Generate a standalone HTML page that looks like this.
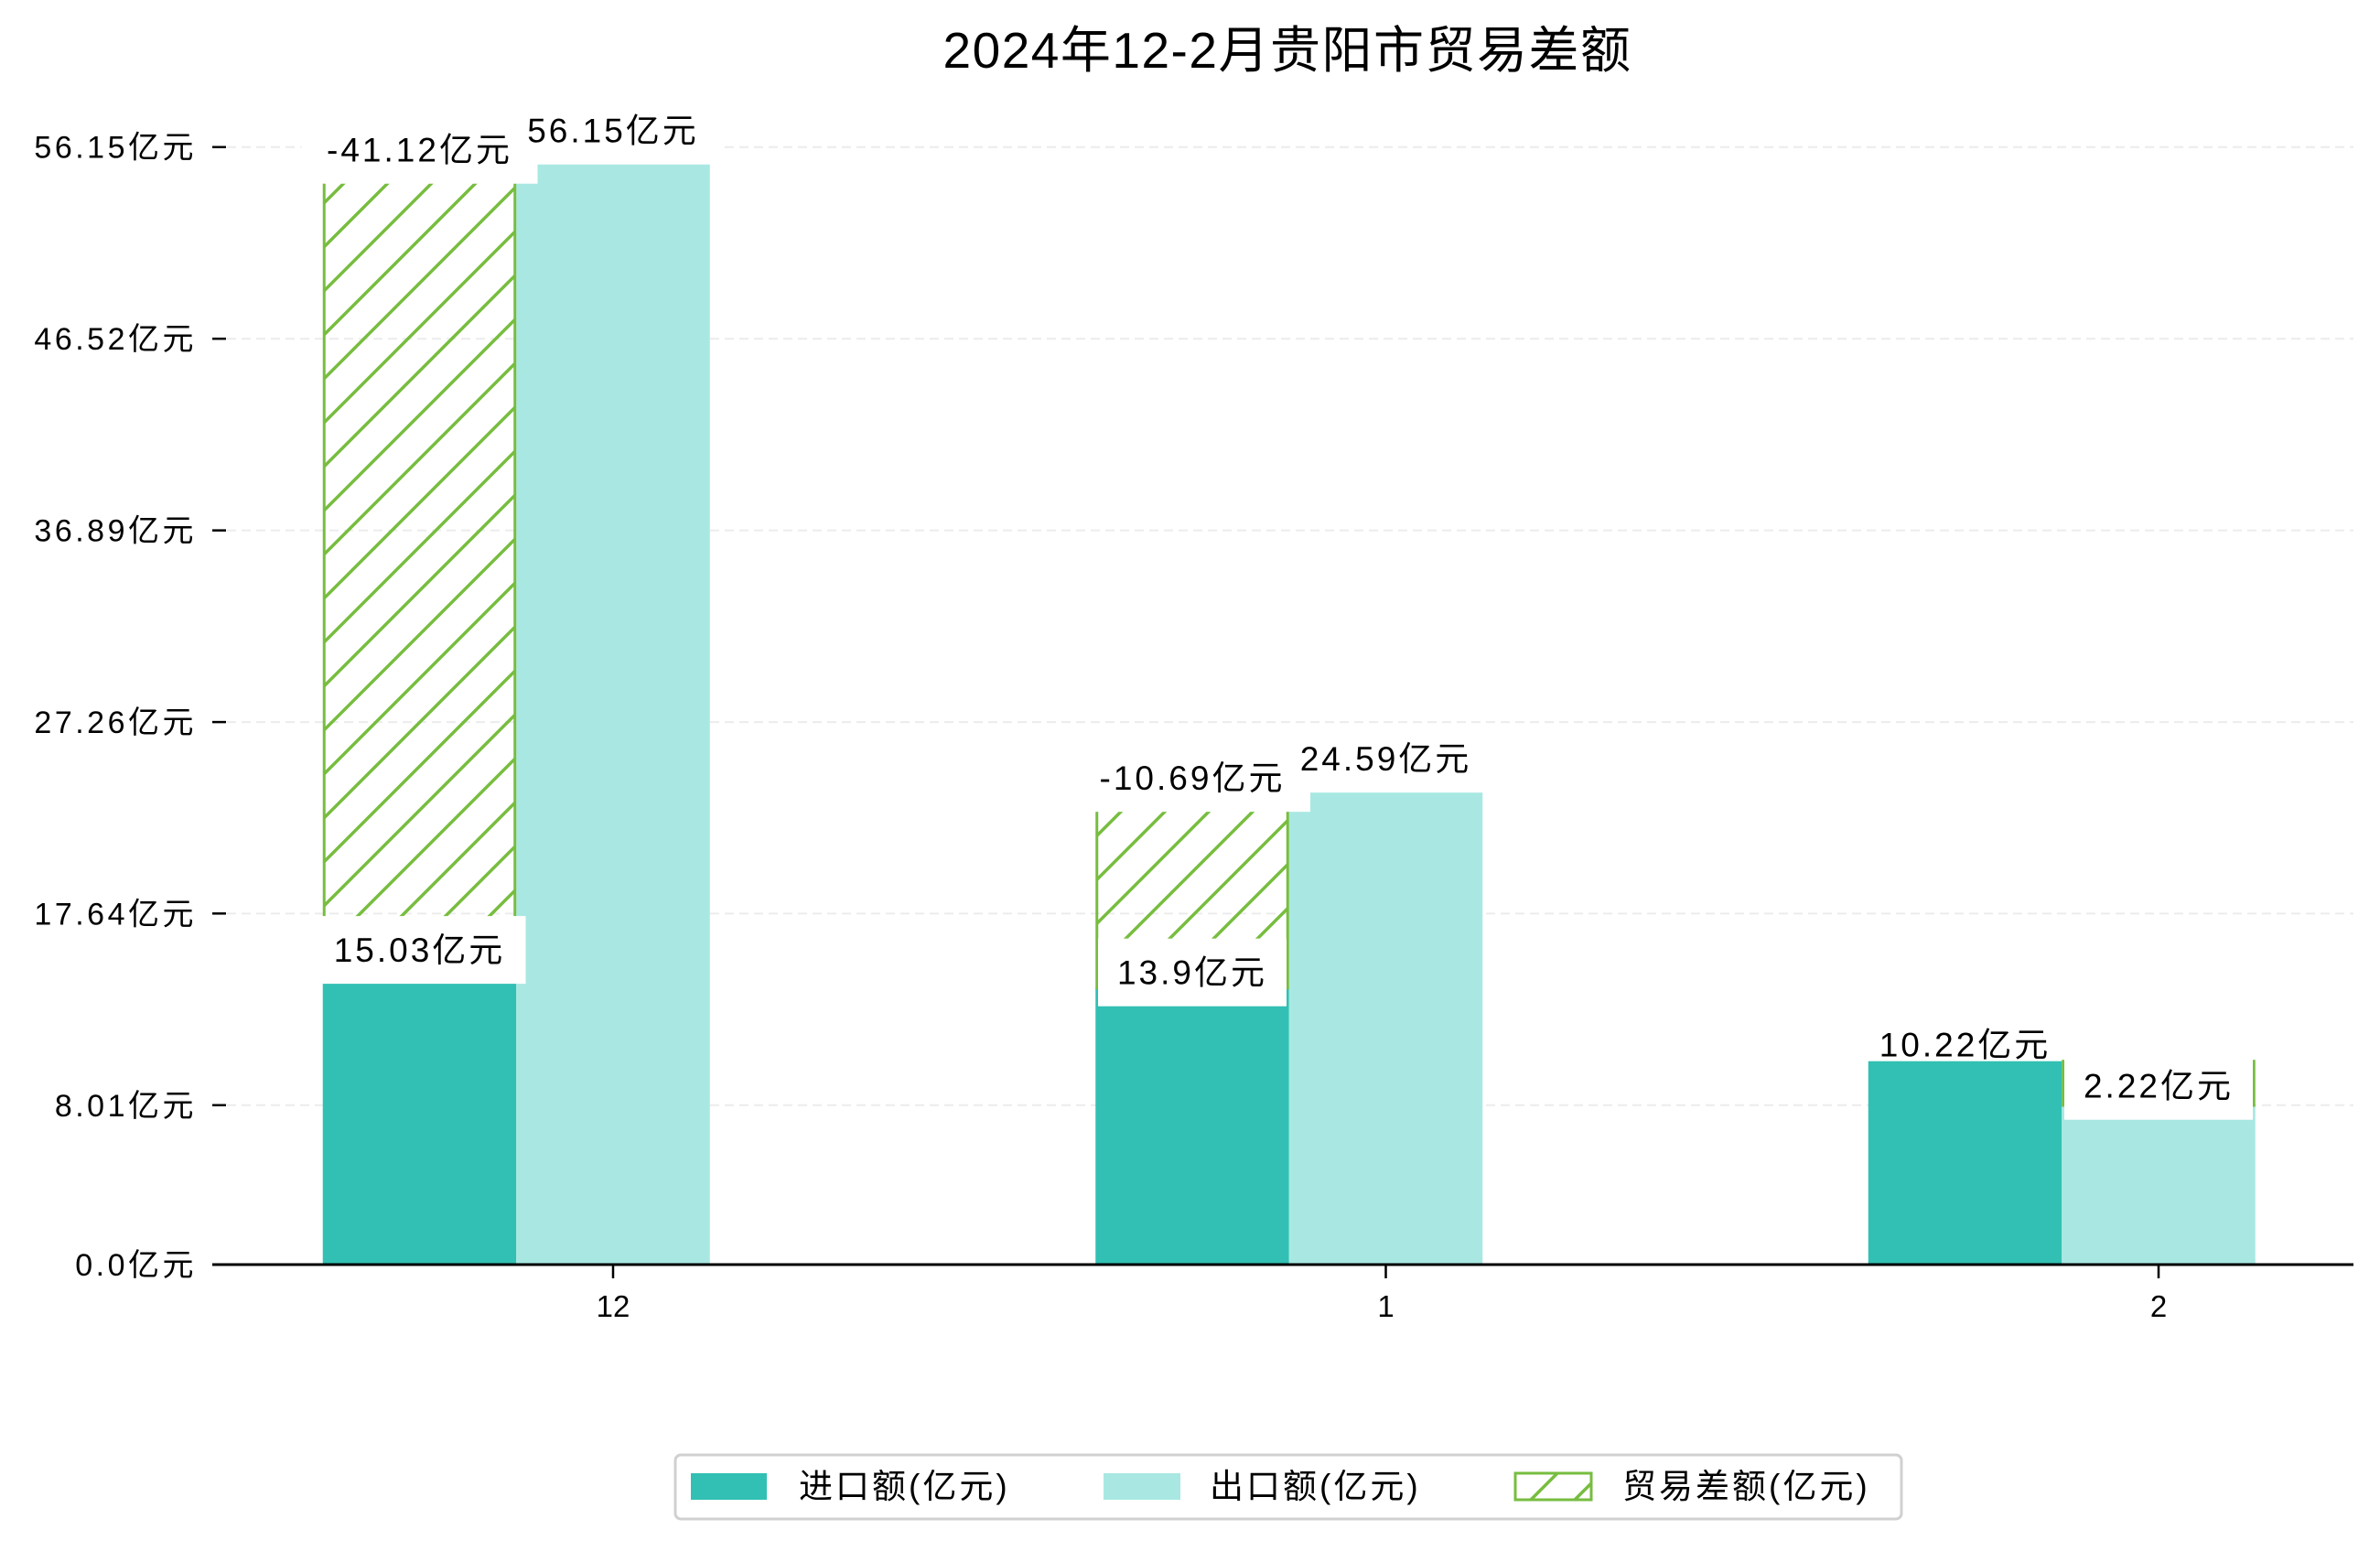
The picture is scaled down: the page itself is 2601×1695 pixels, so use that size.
<!DOCTYPE html>
<html><head><meta charset="utf-8"><style>
html,body{margin:0;padding:0;background:#fff}
svg text{font-family:"Liberation Sans","Noto Sans CJK SC",sans-serif}
</style></head><body>
<svg id="chart" width="2601" height="1690" viewBox="0 0 2601 1690" xmlns="http://www.w3.org/2000/svg">
<defs>
<pattern id="hatch" patternUnits="userSpaceOnUse" width="48" height="48">
<path d="M-12,12 L12,-12 M0,48 L48,0 M36,60 L60,36" stroke="#77bd3f" stroke-width="3.5"/>
</pattern>
</defs>
<text x="1407" y="74" font-size="55" letter-spacing="1.5" text-anchor="middle" fill="#000">2024年12-2月贵阳市贸易差额</text>
<g id="grid"></g><g id="bars"></g><g id="boxes"></g><g id="labels"></g><g id="axes"></g>
<g>
<rect x="738" y="1590" width="1340" height="70" rx="6" fill="#fff" stroke="#d0d0d0" stroke-width="3"/>
<rect x="755" y="1610" width="83" height="29" fill="#31c0b3"/>
<text x="873" y="1637" font-size="37" letter-spacing="3">进口额(亿元)</text>
<rect x="1206" y="1610" width="84" height="29" fill="#a9e8e2"/>
<text x="1322" y="1637" font-size="37" letter-spacing="3">出口额(亿元)</text>
<rect x="1656" y="1610" width="83" height="29" fill="url(#hatch)" stroke="#77bd3f" stroke-width="3"/>
<text x="1773" y="1637" font-size="37" letter-spacing="3">贸易差额(亿元)</text>
</g>
</svg>
<script>
const categories = ['12', '1', '2'];
const importVals = [15.03, 13.9, 10.22];
const exportVals = [56.15, 24.59, 8.0];
const balanceVals = [-41.12, -10.69, 2.22];
const yTicks = [0.0, 8.01, 17.64, 27.26, 36.89, 46.52, 56.15];
const yTickLabels = ['0.0亿元', '8.01亿元', '17.64亿元', '27.26亿元', '36.89亿元', '46.52亿元', '56.15亿元'];

const NS = 'http://www.w3.org/2000/svg';
const y0 = 1382, unit = 21.75, plotL = 232, plotR = 2572;
const c0 = 670, step = 844.5, bw = 211.5;
const yS = v => y0 - v * unit;
const xS = i => c0 + i * step;
function mk(tag, attrs, parent) {
  const e = document.createElementNS(NS, tag);
  for (const k in attrs) e.setAttribute(k, attrs[k]);
  parent.appendChild(e); return e;
}
const grid = document.getElementById('grid'), bars = document.getElementById('bars'),
      boxes = document.getElementById('boxes'),
      labels = document.getElementById('labels'), axes = document.getElementById('axes');

yTicks.forEach((t, i) => {
  const y = yS(t);
  if (t > 0) {
    const g = mk('line', {x1: plotL, x2: plotR, y1: y, y2: y, stroke: '#ececec', 'stroke-width': 2, 'stroke-dasharray': '10,6'}, grid);
    
    
  }
  const tk = mk('line', {x1: 232, x2: 247, y1: y, y2: y, stroke: '#000', 'stroke-width': 2.5}, axes);
  
  
  const tl = mk('text', {x: 215, y: y + 12, 'font-size': 34, 'letter-spacing': 3.5, 'text-anchor': 'end'}, axes);
  tl.textContent = yTickLabels[i];
  
  
});

function label(txt, cx, cy, name, withBox, minW) {
  if (withBox) {
    const w = Math.max(txt.length * 26 + 50, minW);
    const r = mk('rect', {x: cx - w / 2, y: cy - 37, width: w, height: 74, fill: '#fff'}, boxes);
    
    
  }
  const t = mk('text', {x: cx, y: cy + 13, 'font-size': 37, 'letter-spacing': 3, 'text-anchor': 'middle'}, labels);
  t.textContent = txt;
  
  
}

categories.forEach((c, i) => {
  const xc = xS(i);
  const ib = mk('rect', {x: xc - 1.5 * bw, y: yS(importVals[i]), width: bw, height: importVals[i] * unit, fill: '#31c0b3'}, bars);
  
  
  const eb = mk('rect', {x: xc - 0.5 * bw, y: yS(exportVals[i]), width: bw, height: exportVals[i] * unit, fill: '#a9e8e2'}, bars);
  
  
  const lo = Math.min(importVals[i], exportVals[i]), hi = lo + Math.abs(balanceVals[i]);
  const hx = importVals[i] < exportVals[i] ? xc - 1.5 * bw : xc - 0.5 * bw;
  const hb = mk('rect', {x: hx + 1.5, y: yS(hi), width: bw - 3, height: (hi - lo) * unit, fill: 'url(#hatch)', stroke: '#77bd3f', 'stroke-width': 3}, bars);
  
  
  const tk = mk('line', {x1: xc, x2: xc, y1: y0, y2: y0 + 15, stroke: '#000', 'stroke-width': 2.5}, axes);
  
  
  const tl = mk('text', {x: xc, y: y0 + 57, 'font-size': 33, 'text-anchor': 'middle'}, axes);
  tl.textContent = c;
  
  
  const pos = balanceVals[i] > 0;
  label(importVals[i] + '亿元', xc - bw, yS(importVals[i]) - (pos ? 18 : 17), 'import-value-label', !pos, 0);
  if (!pos) label(exportVals[i] + '亿元', xc, yS(exportVals[i]) - 18, 'export-value-label', true, bw + 14);
  label(balanceVals[i] + '亿元', hx + bw / 2, yS(hi) + (pos ? 27 : 3), 'balance-value-label', true, 0);
});
const ax = mk('line', {x1: plotL, x2: plotR, y1: y0, y2: y0, stroke: '#000', 'stroke-width': 3}, axes);


</script>
</body></html>
